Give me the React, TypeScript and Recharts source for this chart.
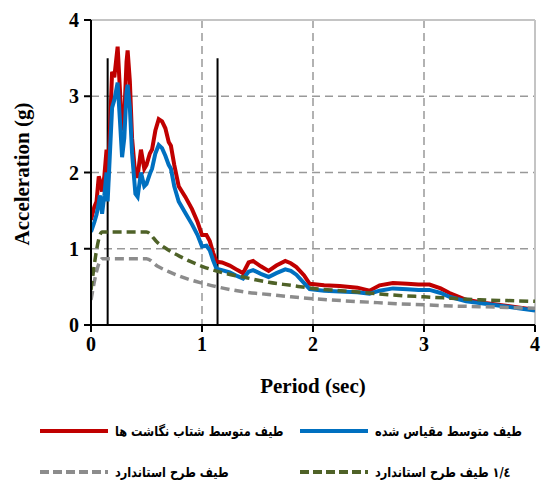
import { LineChart, Line, XAxis, YAxis, CartesianGrid, ReferenceLine } from 'recharts';

// periods (sec) for the two averaged record spectra
const periods = [
  0, 0.03, 0.05, 0.07, 0.08, 0.1, 0.12, 0.14, 0.15, 0.19, 0.21, 0.24, 0.26, 0.28, 0.3, 0.32, 0.33, 0.35, 0.37,
  0.4, 0.42, 0.45, 0.48, 0.5, 0.53, 0.55, 0.58, 0.61, 0.64, 0.67, 0.7, 0.72, 0.75, 0.79, 0.85, 0.91, 0.96, 1.0,
  1.04, 1.07, 1.1, 1.13, 1.18, 1.25, 1.32, 1.37, 1.42, 1.46, 1.53, 1.6, 1.67, 1.75, 1.8, 1.85, 1.92, 1.97, 2.1,
  2.24, 2.4, 2.51, 2.6, 2.72, 2.85, 2.95, 3.05, 3.15, 3.23, 3.38, 3.55, 3.7, 3.85, 4.0,
];
const recordsMean = [
  1.38, 1.55, 1.62, 1.95, 1.9, 1.75, 1.95, 2.3, 1.75, 3.32, 3.25, 3.65, 3.1, 2.55, 2.75, 3.45, 3.6, 3.2, 2.45,
  1.95, 1.95, 2.3, 2.05, 2.1, 2.25, 2.3, 2.55, 2.7, 2.67, 2.58, 2.4, 2.35, 2.1, 1.82, 1.68, 1.52, 1.35, 1.18,
  1.18, 1.1, 0.95, 0.83, 0.82, 0.78, 0.72, 0.68, 0.82, 0.84, 0.77, 0.71, 0.78, 0.84, 0.81, 0.76, 0.65, 0.54, 0.52,
  0.51, 0.49, 0.45, 0.52, 0.55, 0.54, 0.53, 0.53, 0.48, 0.42, 0.33, 0.29, 0.26, 0.23, 0.2,
];
const scaledMean = [
  1.22, 1.35, 1.45, 1.6, 1.7, 1.46, 1.7, 2.0, 1.62, 2.85, 2.95, 3.18, 2.7, 2.2, 2.45, 3.05, 3.15, 2.85, 2.25,
  1.72, 1.68, 2.0, 1.82, 1.85, 1.98, 2.05, 2.25, 2.36, 2.32, 2.22, 2.1, 2.05, 1.82, 1.62, 1.47, 1.32, 1.18, 1.03,
  1.04, 0.98, 0.85, 0.74, 0.72, 0.69, 0.64, 0.61, 0.7, 0.72, 0.67, 0.63, 0.68, 0.73, 0.71, 0.66, 0.55, 0.47, 0.45,
  0.44, 0.43, 0.41, 0.45, 0.48, 0.47, 0.46, 0.46, 0.42, 0.37, 0.31, 0.28, 0.25, 0.22, 0.19,
];

// design spectra
const designPeriods = [0, 0.1, 0.2, 0.3, 0.4, 0.5, 0.6, 0.7, 0.8, 0.9, 1.0, 1.2, 1.4, 1.6, 1.8, 2.0, 2.25, 2.5, 2.75, 3.0, 3.25, 3.5, 3.75, 4.0];
const standardDesign = [0.33, 0.87, 0.87, 0.87, 0.87, 0.87, 0.77, 0.7, 0.64, 0.59, 0.55, 0.48, 0.43, 0.4, 0.37, 0.345, 0.32, 0.3, 0.28, 0.265, 0.25, 0.24, 0.23, 0.22];
const design14 = [0.46, 1.22, 1.22, 1.22, 1.22, 1.22, 1.08, 0.98, 0.9, 0.83, 0.77, 0.68, 0.62, 0.56, 0.52, 0.48, 0.45, 0.42, 0.39, 0.37, 0.35, 0.33, 0.32, 0.31];

// period range limits (vertical markers)
const rangeLimits = [0.15, 1.14];
const rangeTop = 3.5;

const xTicks = [0, 1, 2, 3, 4];
const yTicks = [0, 1, 2, 3, 4];

const legendItems = [
  { label: 'طيف متوسط شتاب نگاشت ها', color: '#C00000', dashed: false },
  { label: 'طيف متوسط مقياس شده', color: '#0070C0', dashed: false },
  { label: 'طيف طرح استاندارد', color: '#8C8C8C', dashed: true },
  { label: '\u2066۱/٤\u2069 طيف طرح استاندارد', color: '#4F6228', dashed: true },
];

const recordData = periods.map((t, i) => ({ t, rec: recordsMean[i], sc: scaledMean[i] }));
const designData = designPeriods.map((t, i) => ({ t, std: standardDesign[i], d14: design14[i] }));

const serif = '"Liberation Serif", "Times New Roman", serif';
const tickStyle = { fill: '#000', fontSize: 20, fontWeight: 700, fontFamily: serif };

// y axis title, centred on the plot height
const YTitle = () => (
  <text x={22} y={174} transform="rotate(-90 22 174)" textAnchor="middle" dominantBaseline="central"
    fill="#000" fontSize={21} fontWeight={700} fontFamily={serif}>
    Acceleration (g)
  </text>
);

const LegendEntry = ({ item, left, top }: { item: typeof legendItems[number]; left: number; top: number }) => (
  <div style={{ position: 'absolute', left, top, display: 'flex', alignItems: 'center', height: 20 }}>
    <svg width={70} height={8}>
      <line x1={1} y1={4} x2={69} y2={4} stroke={item.color} strokeWidth={4}
        strokeDasharray={item.dashed ? '9 4' : undefined} />
    </svg>
    <span dir="rtl" style={{
      display: 'inline-block', marginLeft: 6, fontFamily: '"DejaVu Sans", sans-serif', fontSize: 13.5, fontWeight: 700,
      color: '#000', whiteSpace: 'nowrap', transform: 'scaleX(0.84)', transformOrigin: 'left center',
    }}>
      {item.label}
    </span>
  </div>
);

export default function App() {
  return (
    <div style={{ position: 'absolute', left: 0, top: 0, width: 543, height: 493, background: '#fff' }}>
      <LineChart width={543} height={400} data={recordData} margin={{ top: 20, right: 8, left: 0, bottom: 0 }}>
        <CartesianGrid stroke="#999" strokeWidth={1.5} strokeDasharray="8 5" horizontalValues={[1, 2, 3]} verticalValues={[1, 2, 3]} />
        <ReferenceLine y={4} stroke="#c4c4c4" strokeWidth={2} />
        <ReferenceLine x={4} stroke="#c4c4c4" strokeWidth={2} />
        <XAxis
          dataKey="t"
          type="number"
          domain={[0, 4]}
          ticks={xTicks}
          allowDataOverflow
          height={75}
          axisLine={{ stroke: '#000', strokeWidth: 2 }}
          tickLine={{ stroke: '#000', strokeWidth: 2 }}
          tickSize={7}
          tickMargin={5}
          tick={tickStyle}
          label={{ value: 'Period (sec)', position: 'insideBottom', offset: 7, style: { ...tickStyle, fontSize: 21 } }}
        />
        <YAxis
          type="number"
          domain={[0, 4]}
          ticks={yTicks}
          width={91}
          axisLine={{ stroke: '#000', strokeWidth: 2 }}
          tickLine={{ stroke: '#000', strokeWidth: 2 }}
          tickSize={7}
          tickMargin={5}
          tick={tickStyle}
          label={<YTitle />}
        />
        {rangeLimits.map((t) => (
          <ReferenceLine key={t} segment={[{ x: t, y: 0 }, { x: t, y: rangeTop }]} stroke="#000" strokeWidth={2} />
        ))}
        <Line type="linear" dataKey="rec" stroke="#C00000" strokeWidth={4} dot={false} isAnimationActive={false} />
        <Line type="linear" dataKey="sc" stroke="#0070C0" strokeWidth={4} dot={false} isAnimationActive={false} />
        <Line type="monotone" data={designData} dataKey="std" stroke="#8C8C8C" strokeWidth={3.5} strokeDasharray="9 5" dot={false} isAnimationActive={false} />
        <Line type="monotone" data={designData} dataKey="d14" stroke="#4F6228" strokeWidth={3.5} strokeDasharray="9 5" dot={false} isAnimationActive={false} />
      </LineChart>
      <LegendEntry item={legendItems[0]} left={39} top={421} />
      <LegendEntry item={legendItems[1]} left={299} top={421} />
      <LegendEntry item={legendItems[2]} left={39} top={462} />
      <LegendEntry item={legendItems[3]} left={299} top={462} />
    </div>
  );
}
